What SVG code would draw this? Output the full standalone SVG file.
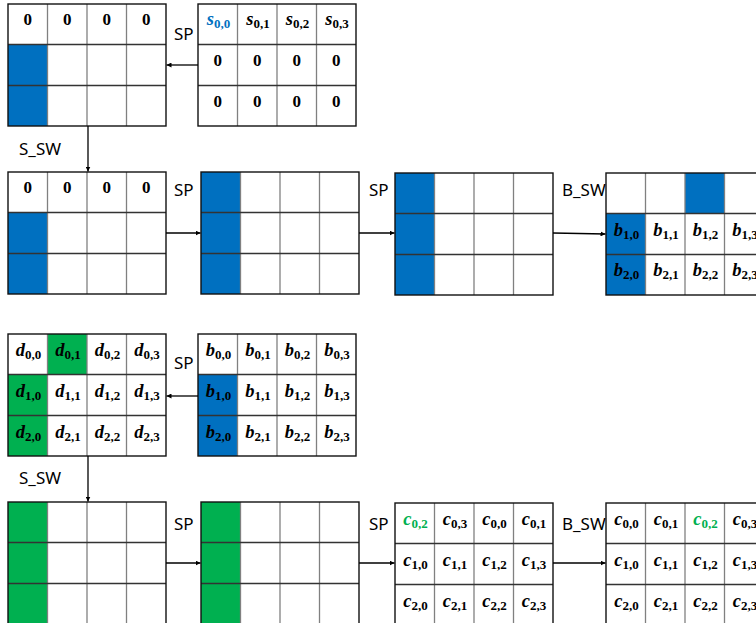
<svg xmlns="http://www.w3.org/2000/svg" xmlns:xlink="http://www.w3.org/1999/xlink" width="756" height="623" viewBox="0 0 756 623">
<style>
.bg{fill:#fff}
.blue{fill:#0070C0}
.green{fill:#00B050}
.vl{stroke:#808080;stroke-width:1.3}
.hl{stroke:#333;stroke-width:1.3}
.ol{fill:none;stroke:#111;stroke-width:1.4}
.z{font-family:"Liberation Serif",serif;font-weight:bold;font-size:17px;text-anchor:middle;fill:#000}
.m{font-family:"Liberation Serif",serif;font-weight:bold;font-style:italic;font-size:18.5px;text-anchor:middle;fill:#000}
.m tspan.s{font-style:normal;font-size:13px}
.lbl{font-family:"Noto Sans","Liberation Sans",sans-serif;font-size:17px;fill:#000}
.conn{stroke:#000;stroke-width:1.3;fill:none;marker-end:url(#ah)}
.tb{fill:#0070C0}
.tg{fill:#00B050}
</style>
<defs>
<marker id="ah" viewBox="0 0 10 10" refX="10" refY="5" markerWidth="5" markerHeight="5" orient="auto" markerUnits="userSpaceOnUse">
<path d="M0,0 L10,5 L0,10 z" fill="#000"/>
</marker>
<g id="gl">
<line class="vl" x1="39.5" y1="0" x2="39.5" y2="122"/>
<line class="vl" x1="79" y1="0" x2="79" y2="122"/>
<line class="vl" x1="118.5" y1="0" x2="118.5" y2="122"/>
<line class="hl" x1="0" y1="40.5" x2="158" y2="40.5"/>
<line class="hl" x1="0" y1="81.5" x2="158" y2="81.5"/>
<rect class="ol" x="0" y="0" width="158" height="122"/>
</g>
</defs>
<rect width="756" height="623" fill="#fff"/>

<g id="labels">
<text class="lbl" x="174" y="40">SP</text>
<text class="lbl" x="19" y="155">S_SW</text>
<text class="lbl" x="174" y="196">SP</text>
<text class="lbl" x="369" y="196">SP</text>
<text class="lbl" x="562" y="196">B_SW</text>
<text class="lbl" x="174" y="369">SP</text>
<text class="lbl" x="19" y="484">S_SW</text>
<text class="lbl" x="174" y="530">SP</text>
<text class="lbl" x="369" y="530">SP</text>
<text class="lbl" x="562" y="530">B_SW</text>
</g>

<g id="grid1" transform="translate(8,4)">
<rect class="bg" width="158" height="122"/>
<rect class="blue" x="0" y="40.5" width="39.5" height="81.5"/>
<text class="z" x="19.75" y="21">0</text><text class="z" x="59.25" y="21">0</text><text class="z" x="98.75" y="21">0</text><text class="z" x="138.25" y="21">0</text>
<use xlink:href="#gl"/>
</g>

<g id="grid2" transform="translate(198,4)">
<rect class="bg" width="158" height="122"/>
<text class="m tb" x="20.5" y="21">s<tspan class="s" dy="3">0,0</tspan></text>
<text class="m" x="60" y="21">s<tspan class="s" dy="3">0,1</tspan></text>
<text class="m" x="99.5" y="21">s<tspan class="s" dy="3">0,2</tspan></text>
<text class="m" x="139" y="21">s<tspan class="s" dy="3">0,3</tspan></text>
<text class="z" x="19.75" y="62">0</text><text class="z" x="59.25" y="62">0</text><text class="z" x="98.75" y="62">0</text><text class="z" x="138.25" y="62">0</text>
<text class="z" x="19.75" y="103">0</text><text class="z" x="59.25" y="103">0</text><text class="z" x="98.75" y="103">0</text><text class="z" x="138.25" y="103">0</text>
<use xlink:href="#gl"/>
</g>

<g id="grid3" transform="translate(8,172)">
<rect class="bg" width="158" height="122"/>
<rect class="blue" x="0" y="40.5" width="39.5" height="81.5"/>
<text class="z" x="19.75" y="21">0</text><text class="z" x="59.25" y="21">0</text><text class="z" x="98.75" y="21">0</text><text class="z" x="138.25" y="21">0</text>
<use xlink:href="#gl"/>
</g>

<g id="grid4" transform="translate(201,172)">
<rect class="bg" width="158" height="122"/>
<rect class="blue" x="0" y="0" width="39.5" height="122"/>
<use xlink:href="#gl"/>
</g>

<g id="grid5" transform="translate(395,173)">
<rect class="bg" width="158" height="122"/>
<rect class="blue" x="0" y="0" width="39.5" height="122"/>
<use xlink:href="#gl"/>
</g>

<g id="grid6" transform="translate(606,173)">
<rect class="bg" width="158" height="122"/>
<rect class="blue" x="79" y="0" width="39.5" height="40.5"/>
<rect class="blue" x="0" y="40.5" width="39.5" height="81.5"/>
<text class="m" x="20.5" y="63">b<tspan class="s" dy="3">1,0</tspan></text>
<text class="m" x="60" y="63">b<tspan class="s" dy="3">1,1</tspan></text>
<text class="m" x="99.5" y="63">b<tspan class="s" dy="3">1,2</tspan></text>
<text class="m" x="139" y="63">b<tspan class="s" dy="3">1,3</tspan></text>
<text class="m" x="20.5" y="103">b<tspan class="s" dy="3">2,0</tspan></text>
<text class="m" x="60" y="103">b<tspan class="s" dy="3">2,1</tspan></text>
<text class="m" x="99.5" y="103">b<tspan class="s" dy="3">2,2</tspan></text>
<text class="m" x="139" y="103">b<tspan class="s" dy="3">2,3</tspan></text>
<use xlink:href="#gl"/>
</g>

<g id="grid7" transform="translate(8,334)">
<rect class="bg" width="158" height="122"/>
<rect class="green" x="39.5" y="0" width="39.5" height="40.5"/>
<rect class="green" x="0" y="40.5" width="39.5" height="81.5"/>
<text class="m" x="20.5" y="22">d<tspan class="s" dy="3">0,0</tspan></text>
<text class="m" x="60" y="22">d<tspan class="s" dy="3">0,1</tspan></text>
<text class="m" x="99.5" y="22">d<tspan class="s" dy="3">0,2</tspan></text>
<text class="m" x="139" y="22">d<tspan class="s" dy="3">0,3</tspan></text>
<text class="m" x="20.5" y="63">d<tspan class="s" dy="3">1,0</tspan></text>
<text class="m" x="60" y="63">d<tspan class="s" dy="3">1,1</tspan></text>
<text class="m" x="99.5" y="63">d<tspan class="s" dy="3">1,2</tspan></text>
<text class="m" x="139" y="63">d<tspan class="s" dy="3">1,3</tspan></text>
<text class="m" x="20.5" y="104">d<tspan class="s" dy="3">2,0</tspan></text>
<text class="m" x="60" y="104">d<tspan class="s" dy="3">2,1</tspan></text>
<text class="m" x="99.5" y="104">d<tspan class="s" dy="3">2,2</tspan></text>
<text class="m" x="139" y="104">d<tspan class="s" dy="3">2,3</tspan></text>
<use xlink:href="#gl"/>
</g>

<g id="grid8" transform="translate(198,334)">
<rect class="bg" width="158" height="122"/>
<rect class="blue" x="0" y="40.5" width="39.5" height="81.5"/>
<text class="m" x="20.5" y="22">b<tspan class="s" dy="3">0,0</tspan></text>
<text class="m" x="60" y="22">b<tspan class="s" dy="3">0,1</tspan></text>
<text class="m" x="99.5" y="22">b<tspan class="s" dy="3">0,2</tspan></text>
<text class="m" x="139" y="22">b<tspan class="s" dy="3">0,3</tspan></text>
<text class="m" x="20.5" y="63">b<tspan class="s" dy="3">1,0</tspan></text>
<text class="m" x="60" y="63">b<tspan class="s" dy="3">1,1</tspan></text>
<text class="m" x="99.5" y="63">b<tspan class="s" dy="3">1,2</tspan></text>
<text class="m" x="139" y="63">b<tspan class="s" dy="3">1,3</tspan></text>
<text class="m" x="20.5" y="104">b<tspan class="s" dy="3">2,0</tspan></text>
<text class="m" x="60" y="104">b<tspan class="s" dy="3">2,1</tspan></text>
<text class="m" x="99.5" y="104">b<tspan class="s" dy="3">2,2</tspan></text>
<text class="m" x="139" y="104">b<tspan class="s" dy="3">2,3</tspan></text>
<use xlink:href="#gl"/>
</g>

<g id="grid9" transform="translate(8,502)">
<rect class="bg" width="158" height="122"/>
<rect class="green" x="0" y="0" width="39.5" height="122"/>
<use xlink:href="#gl"/>
</g>

<g id="grid10" transform="translate(201,502)">
<rect class="bg" width="158" height="122"/>
<rect class="green" x="0" y="0" width="39.5" height="122"/>
<use xlink:href="#gl"/>
</g>

<g id="grid11" transform="translate(395,503)">
<rect class="bg" width="158" height="122"/>
<text class="m tg" x="20.5" y="22">c<tspan class="s" dy="3">0,2</tspan></text>
<text class="m" x="60" y="22">c<tspan class="s" dy="3">0,3</tspan></text>
<text class="m" x="99.5" y="22">c<tspan class="s" dy="3">0,0</tspan></text>
<text class="m" x="139" y="22">c<tspan class="s" dy="3">0,1</tspan></text>
<text class="m" x="20.5" y="63">c<tspan class="s" dy="3">1,0</tspan></text>
<text class="m" x="60" y="63">c<tspan class="s" dy="3">1,1</tspan></text>
<text class="m" x="99.5" y="63">c<tspan class="s" dy="3">1,2</tspan></text>
<text class="m" x="139" y="63">c<tspan class="s" dy="3">1,3</tspan></text>
<text class="m" x="20.5" y="104">c<tspan class="s" dy="3">2,0</tspan></text>
<text class="m" x="60" y="104">c<tspan class="s" dy="3">2,1</tspan></text>
<text class="m" x="99.5" y="104">c<tspan class="s" dy="3">2,2</tspan></text>
<text class="m" x="139" y="104">c<tspan class="s" dy="3">2,3</tspan></text>
<use xlink:href="#gl"/>
</g>

<g id="grid12" transform="translate(606,503)">
<rect class="bg" width="158" height="122"/>
<text class="m" x="20.5" y="22">c<tspan class="s" dy="3">0,0</tspan></text>
<text class="m" x="60" y="22">c<tspan class="s" dy="3">0,1</tspan></text>
<text class="m tg" x="99.5" y="22">c<tspan class="s" dy="3">0,2</tspan></text>
<text class="m" x="139" y="22">c<tspan class="s" dy="3">0,3</tspan></text>
<text class="m" x="20.5" y="63">c<tspan class="s" dy="3">1,0</tspan></text>
<text class="m" x="60" y="63">c<tspan class="s" dy="3">1,1</tspan></text>
<text class="m" x="99.5" y="63">c<tspan class="s" dy="3">1,2</tspan></text>
<text class="m" x="139" y="63">c<tspan class="s" dy="3">1,3</tspan></text>
<text class="m" x="20.5" y="104">c<tspan class="s" dy="3">2,0</tspan></text>
<text class="m" x="60" y="104">c<tspan class="s" dy="3">2,1</tspan></text>
<text class="m" x="99.5" y="104">c<tspan class="s" dy="3">2,2</tspan></text>
<text class="m" x="139" y="104">c<tspan class="s" dy="3">2,3</tspan></text>
<use xlink:href="#gl"/>
</g>

<g id="connectors">
<line class="conn" x1="198" y1="65" x2="166.5" y2="65"/>
<line class="conn" x1="88" y1="126" x2="88" y2="171.5"/>
<line class="conn" x1="166" y1="233" x2="200.5" y2="233"/>
<line class="conn" x1="359" y1="233" x2="394.5" y2="233"/>
<line class="conn" x1="553" y1="233" x2="605.5" y2="234"/>
<line class="conn" x1="198" y1="396" x2="166.5" y2="396"/>
<line class="conn" x1="88" y1="456" x2="88" y2="501.5"/>
<line class="conn" x1="166" y1="563" x2="200.5" y2="563"/>
<line class="conn" x1="359" y1="563" x2="394.5" y2="563"/>
<line class="conn" x1="553" y1="563" x2="605.5" y2="563"/>
</g>
</svg>
